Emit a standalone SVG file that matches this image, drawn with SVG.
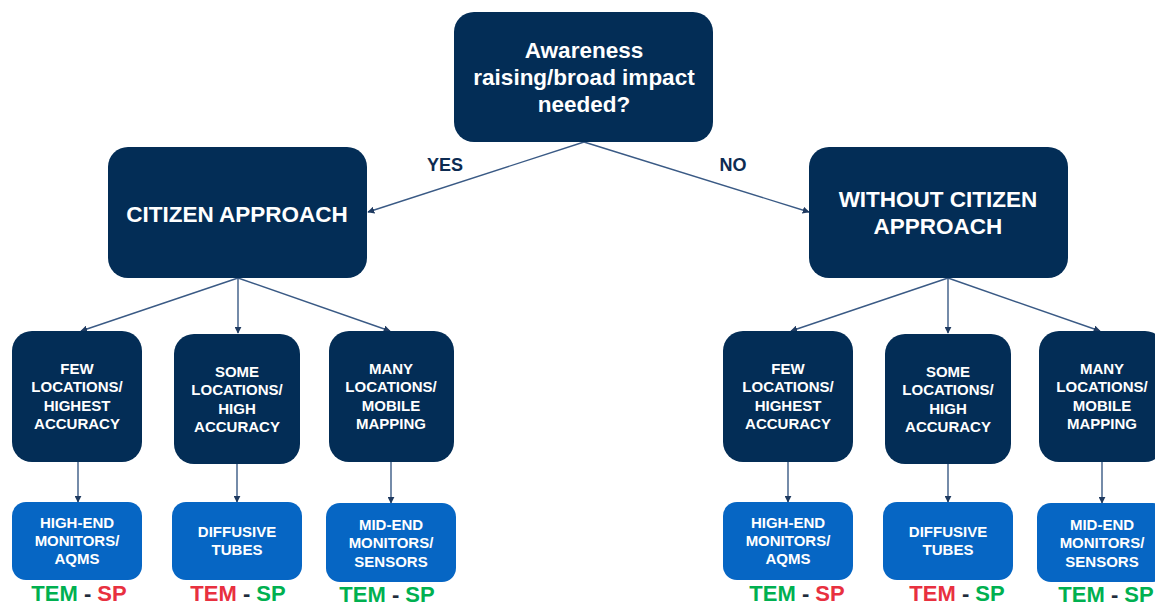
<svg xmlns="http://www.w3.org/2000/svg" width="1155" height="604" viewBox="0 0 1155 604">
<defs>
<marker id="ah" viewBox="0 0 10 10" refX="9" refY="5" markerWidth="7" markerHeight="7" markerUnits="userSpaceOnUse" orient="auto">
<path d="M0,0 L10,5 L0,10 z" fill="#1F3A60"/>
</marker>
<style>
.dk{fill:#032D56;}
.bl{fill:#0666C4;}
.t{font-family:"Liberation Sans",Arial,sans-serif;font-weight:bold;fill:#FFFFFF;text-anchor:middle;}
.big{font-size:22.5px;}
.sm{font-size:15px;}
.lab{font-family:"Liberation Sans",Arial,sans-serif;font-weight:bold;font-size:18px;fill:#0D2B52;text-anchor:middle;}
.ts{font-family:"Liberation Sans",Arial,sans-serif;font-weight:bold;font-size:22px;text-anchor:middle;}
.g{fill:#00B050;}
.r{fill:#E8303F;}
.d{fill:#1F2D3D;}
.c{stroke:#3A5A85;stroke-width:1.4;fill:none;marker-end:url(#ah);}
</style>
</defs>
<rect width="1155" height="604" fill="#FFFFFF"/>

<g id="connectors">
<line class="c" x1="584" y1="142" x2="368" y2="212"/>
<line class="c" x1="584" y1="142" x2="809" y2="212"/>
<line class="c" x1="238" y1="278" x2="81" y2="331"/>
<line class="c" x1="238" y1="278" x2="238" y2="333"/>
<line class="c" x1="238" y1="278" x2="390" y2="331"/>
<line class="c" x1="948" y1="278" x2="791" y2="331"/>
<line class="c" x1="948" y1="278" x2="948" y2="333"/>
<line class="c" x1="948" y1="278" x2="1100" y2="331"/>
<line class="c" x1="78" y1="462" x2="78" y2="502"/>
<line class="c" x1="237" y1="464" x2="237" y2="502"/>
<line class="c" x1="391" y1="462" x2="391" y2="503"/>
<line class="c" x1="788" y1="462" x2="788" y2="502"/>
<line class="c" x1="948" y1="464" x2="948" y2="502"/>
<line class="c" x1="1102" y1="462" x2="1102" y2="503"/>
</g>

<g id="labels">
<text class="lab" x="445" y="171">YES</text>
<text class="lab" x="733" y="171">NO</text>
</g>

<g id="q">
<rect class="dk" x="454" y="12" width="259" height="130" rx="20"/>
<text class="t big" x="584" y="58">Awareness</text>
<text class="t big" x="584" y="85">raising/broad impact</text>
<text class="t big" x="584" y="112">needed?</text>
</g>

<g id="citizen">
<rect class="dk" x="108" y="147" width="259" height="131" rx="20"/>
<text class="t big" x="237" y="222">CITIZEN APPROACH</text>
</g>

<g id="without">
<rect class="dk" x="809" y="147" width="259" height="131" rx="20"/>
<text class="t big" x="938" y="207">WITHOUT CITIZEN</text>
<text class="t big" x="938" y="234">APPROACH</text>
</g>

<g id="c-few">
<rect class="dk" x="12" y="331" width="130" height="131" rx="20"/>
<text class="t sm" x="77" y="374">FEW</text>
<text class="t sm" x="77" y="392">LOCATIONS/</text>
<text class="t sm" x="77" y="411">HIGHEST</text>
<text class="t sm" x="77" y="429">ACCURACY</text>
</g>
<g id="c-some">
<rect class="dk" x="174" y="334" width="126" height="130" rx="20"/>
<text class="t sm" x="237" y="377">SOME</text>
<text class="t sm" x="237" y="395">LOCATIONS/</text>
<text class="t sm" x="237" y="414">HIGH</text>
<text class="t sm" x="237" y="432">ACCURACY</text>
</g>
<g id="c-many">
<rect class="dk" x="329" y="331" width="125" height="131" rx="20"/>
<text class="t sm" x="391" y="374">MANY</text>
<text class="t sm" x="391" y="392">LOCATIONS/</text>
<text class="t sm" x="391" y="411">MOBILE</text>
<text class="t sm" x="391" y="429">MAPPING</text>
</g>

<g id="c-highend">
<rect class="bl" x="12" y="502" width="130" height="78" rx="14"/>
<text class="t sm" x="77" y="528">HIGH-END</text>
<text class="t sm" x="77" y="546">MONITORS/</text>
<text class="t sm" x="77" y="564">AQMS</text>
</g>
<g id="c-diff">
<rect class="bl" x="172" y="502" width="130" height="78" rx="14"/>
<text class="t sm" x="237" y="537">DIFFUSIVE</text>
<text class="t sm" x="237" y="555">TUBES</text>
</g>
<g id="c-midend">
<rect class="bl" x="326" y="503" width="130" height="79" rx="14"/>
<text class="t sm" x="391" y="530">MID-END</text>
<text class="t sm" x="391" y="548">MONITORS/</text>
<text class="t sm" x="391" y="567">SENSORS</text>
</g>

<g id="w-few">
<rect class="dk" x="723" y="331" width="130" height="131" rx="20"/>
<text class="t sm" x="788" y="374">FEW</text>
<text class="t sm" x="788" y="392">LOCATIONS/</text>
<text class="t sm" x="788" y="411">HIGHEST</text>
<text class="t sm" x="788" y="429">ACCURACY</text>
</g>
<g id="w-some">
<rect class="dk" x="885" y="334" width="126" height="130" rx="20"/>
<text class="t sm" x="948" y="377">SOME</text>
<text class="t sm" x="948" y="395">LOCATIONS/</text>
<text class="t sm" x="948" y="414">HIGH</text>
<text class="t sm" x="948" y="432">ACCURACY</text>
</g>
<g id="w-many">
<rect class="dk" x="1039" y="331" width="126" height="131" rx="20"/>
<text class="t sm" x="1102" y="374">MANY</text>
<text class="t sm" x="1102" y="392">LOCATIONS/</text>
<text class="t sm" x="1102" y="411">MOBILE</text>
<text class="t sm" x="1102" y="429">MAPPING</text>
</g>

<g id="w-highend">
<rect class="bl" x="723" y="502" width="130" height="78" rx="14"/>
<text class="t sm" x="788" y="528">HIGH-END</text>
<text class="t sm" x="788" y="546">MONITORS/</text>
<text class="t sm" x="788" y="564">AQMS</text>
</g>
<g id="w-diff">
<rect class="bl" x="883" y="502" width="130" height="78" rx="14"/>
<text class="t sm" x="948" y="537">DIFFUSIVE</text>
<text class="t sm" x="948" y="555">TUBES</text>
</g>
<g id="w-midend">
<rect class="bl" x="1037" y="503" width="130" height="79" rx="14"/>
<text class="t sm" x="1102" y="530">MID-END</text>
<text class="t sm" x="1102" y="548">MONITORS/</text>
<text class="t sm" x="1102" y="567">SENSORS</text>
</g>

<g id="ratings">
<text class="ts" x="79" y="601"><tspan class="g">TEM</tspan><tspan class="d"> - </tspan><tspan class="r">SP</tspan></text>
<text class="ts" x="238" y="601"><tspan class="r">TEM</tspan><tspan class="d"> - </tspan><tspan class="g">SP</tspan></text>
<text class="ts" x="387" y="602"><tspan class="g">TEM</tspan><tspan class="d"> - </tspan><tspan class="g">SP</tspan></text>
<text class="ts" x="797" y="601"><tspan class="g">TEM</tspan><tspan class="d"> - </tspan><tspan class="r">SP</tspan></text>
<text class="ts" x="957" y="601"><tspan class="r">TEM</tspan><tspan class="d"> - </tspan><tspan class="g">SP</tspan></text>
<text class="ts" x="1106" y="602"><tspan class="g">TEM</tspan><tspan class="d"> - </tspan><tspan class="g">SP</tspan></text>
</g>
</svg>
